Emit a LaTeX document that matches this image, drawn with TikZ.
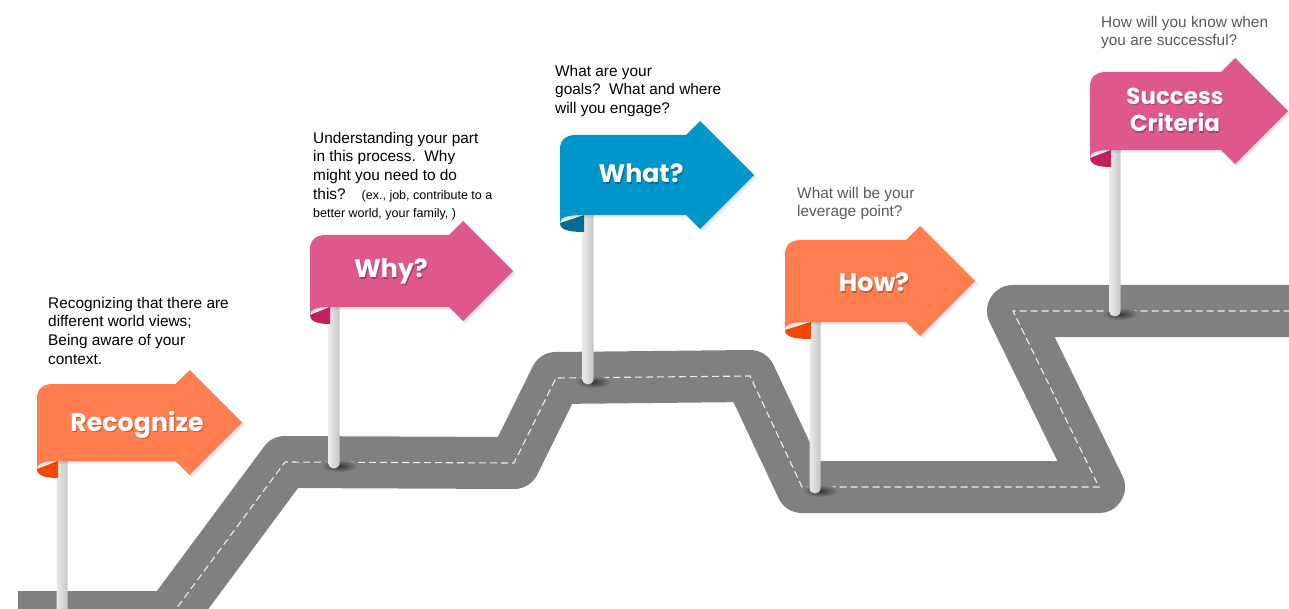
\documentclass[tikz,border=0pt]{standalone}
\usepackage{fontspec}
\setmainfont{Liberation Sans}
\newfontfamily\flagfont{Poppins}
\usetikzlibrary{calc}

\definecolor{roadgray}{RGB}{128,128,128}
\definecolor{lanewhite}{RGB}{236,236,236}
\definecolor{flagorange}{RGB}{255,125,78}
\definecolor{curlorange}{RGB}{242,72,0}
\definecolor{flagpink}{RGB}{222,88,139}
\definecolor{curlpink}{RGB}{196,32,92}
\definecolor{flagblue}{RGB}{0,150,201}
\definecolor{curlblue}{RGB}{0,108,150}
\definecolor{notegray}{RGB}{89,89,89}

% Signpost: #1 left edge, #2 top edge, #3 width to arrow tip, #4 body height,
% #5 pole axis x, #6 pole foot y, #7 face colour, #8 curl colour
\newcommand\signflag[8]{%
  \pgfmathsetmacro\fB{#2+#4}%
  \pgfmathsetmacro\fTx{#1+#3}%
  \pgfmathsetmacro\fTy{#2+#4/2}%
  \pgfmathsetmacro\fHx{\fTx-#4/2-14}%
  \pgfmathsetmacro\fNx{\fHx-14}%
  \pgfmathsetmacro\fCx{#5-4}%
  % shadow of the pole on the road
  \shade[inner color=black!80, outer color=roadgray] ({#5+5},{#6+3}) ellipse [x radius=18, y radius=6];
  % pole
  \shade[left color=black!9, middle color=white, right color=black!22]
    ({#5-5.5},\fB) -- ({#5-5.5},#6) .. controls ({#5-5.5},{#6+7.3}) and ({#5+5.5},{#6+7.3}) .. ({#5+5.5},#6) -- ({#5+5.5},\fB) -- cycle;
  % rolled-under end of the banner
  \fill[#8] (#1,{\fB+8}) .. controls (#1,{\fB+15}) and ({#1+9},{\fB+17}) .. (\fCx,{\fB+17}) -- (\fCx,\fB) -- cycle;
  % soft shadow, then the arrow banner itself
  \foreach \s/\o/\c in {3/0.05/black,1.5/0.08/black,0/1/#7}{
    \fill[fill=\c, opacity=\o, shift={(\s,\s)}]
      (#1,{\fB+8}) -- (#1,{#2+14}) .. controls (#1,{#2+5}) and ({#1+6},#2) .. ({#1+16},#2)
      -- (\fNx,#2) -- (\fHx,{#2-14}) -- (\fTx,\fTy) -- (\fHx,{\fB+14}) -- (\fNx,\fB)
      -- (\fCx,\fB) .. controls ({#1+8},\fB) and (#1,{\fB+2}) .. (#1,{\fB+8}) -- cycle;
  }%
}

\begin{document}
\begin{tikzpicture}[x=1pt,y=-1pt,
  road/.style={line width=52pt, draw=roadgray, line join=round, line cap=butt},
  laneline/.style={draw=lanewhite, line width=1.1pt, dash pattern=on 7pt off 4pt},
  note/.style={anchor=north west, inner sep=0pt, align=left, font=\fontsize{15.4}{18.6}\selectfont},
  flaglabel/.style={anchor=base, inner sep=0pt, text=white, font=\flagfont\bfseries\fontsize{25.3}{28}\selectfont},
  labelshadow/.style={flaglabel, text=black, opacity=0.25},
  twoline/.style={anchor=center, align=center, font=\flagfont\bfseries\fontsize{23}{27.5}\selectfont},
]
\useasboundingbox (0,0) rectangle (1289,609);
\clip (0,0) rectangle (1289,609);

% the winding road and its centre line
\draw[road] (18,617) -- (170,617) -- (285,462) -- (514,463) -- (556,378) -- (750,376)
  -- (802,487) -- (1099,487) -- (1013,311) -- (1300,311);
\draw[laneline] (18,617) -- (170,617) -- (285,462) -- (514,463) -- (556,378) -- (750,376)
  -- (802,487) -- (1099,487) -- (1013,311) -- (1300,311);

% signposts along the road
\signflag{37}{384}{205}{77}{62}{640}{flagorange}{curlorange}
\signflag{310}{235}{203}{72}{334}{463}{flagpink}{curlpink}
\signflag{560}{135}{194}{80}{588}{379}{flagblue}{curlblue}
\signflag{785}{240}{190}{82}{815}{488}{flagorange}{curlorange}
\signflag{1090}{72}{198}{78}{1115}{311}{flagpink}{curlpink}

% banner labels
\node[labelshadow] at (138,432.5) {Recognize};
\node[flaglabel] (recognize) at (137,431) {Recognize};
\node[labelshadow] at (392,279.5) {Why?};
\node[flaglabel] (why) at (391,278) {Why?};
\node[labelshadow] at (642,184.5) {What?};
\node[flaglabel] (what) at (641,183) {What?};
\node[labelshadow] at (875,293.5) {How?};
\node[flaglabel] (how) at (874,292) {How?};
\node[labelshadow, twoline] at (1176,111.5) {Success\\Criteria};
\node[flaglabel, twoline] (success) at (1175,110) {Success\\Criteria};

% notes above the signposts
\node[note] (notecontext) at (48,297) {Recognizing that there are\\different world views;\\Being aware of your\\context.};
\node[note] (notewhy) at (313,132) {Understanding your part\\in this process.\ \ Why\\might you need to do\\this?\hspace{16pt}{\fontsize{12.5}{14}\selectfont(ex., job, contribute to a}\\{\fontsize{12.5}{14}\selectfont better world, your family, )}};
\node[note] (notewhat) at (555,65) {What are your\\goals?\ \ What and where\\will you engage?};
\node[note, text=notegray] (notehow) at (797,187) {What will be your\\leverage point?};
\node[note, text=notegray] (notesuccess) at (1101,16) {How will you know when\\you are successful?};
\end{tikzpicture}
\end{document}
